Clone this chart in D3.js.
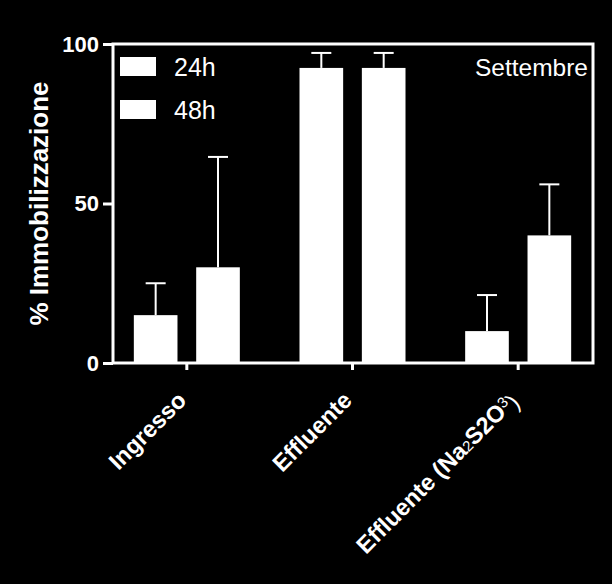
<!DOCTYPE html>
<html>
<head>
<meta charset="utf-8">
<script src="https://cdn.jsdelivr.net/npm/d3@7"></script>
<style>
  body { margin: 0; background: #000; }
  svg { display: block; background: #000; font-family: "Liberation Sans", Arial, Helvetica, sans-serif; }
  .tick text { fill: #fff; font-weight: bold; font-size: 22px; }
  .tick line { stroke: #fff; stroke-width: 3; }
  .xaxis .tick text { font-size: 23.5px; }
</style>
</head>
<body>
<div class="chart_container"></div>
<script>
var width = 612
var height = 584

// data
var groups = ["Ingresso", "Effluente", "Effluente (Na2S2O3)"]
var series = ["24h", "48h"]
var mean24 = [15, 92.5, 10]
var mean48 = [30, 92.5, 40]
var err24 = [10, 4.7, 11.3]
var err48 = [34.6, 4.7, 16]
var yTicks = [0, 50, 100]
var month = "Settembre"

var rows = []
groups.forEach(function (g, i) {
  rows.push({ group: g, serie: "24h", value: mean24[i], err: err24[i] })
  rows.push({ group: g, serie: "48h", value: mean48[i], err: err48[i] })
})

var svg = d3.select(".chart_container").append("svg")
  .attr("width", width)
  .attr("height", height)

var plotLeft = 113, plotRight = 593, plotTop = 44, plotBottom = 363

var scaleY = d3.scaleLinear()
  .domain([0, 100])
  .range([plotBottom, plotTop])

var scaleX = d3.scaleBand()
  .domain(groups)
  .range([104, 601])

var scaleSerie = d3.scaleBand()
  .domain(series)
  .range([-53, 53])
  .paddingInner(0.3)

function barX(d) {
  return scaleX(d.group) + scaleX.bandwidth() / 2 + scaleSerie(d.serie)
}

// bars
svg.selectAll("rect.bar")
  .data(rows)
  .enter()
  .append("rect")
  .attr("class", "bar")
  .attr("x", barX)
  .attr("y", function (d) { return scaleY(d.value) })
  .attr("width", scaleSerie.bandwidth())
  .attr("height", function (d) { return scaleY(0) - scaleY(d.value) })
  .style("fill", "#fff")

// error bars (upper only)
var errs = svg.selectAll("g.err")
  .data(rows)
  .enter()
  .append("g")
  .attr("class", "err")
  .attr("transform", function (d) {
    return "translate(" + (barX(d) + scaleSerie.bandwidth() / 2) + ",0)"
  })

errs.append("line")
  .attr("x1", 0).attr("x2", 0)
  .attr("y1", function (d) { return scaleY(d.value) })
  .attr("y2", function (d) { return scaleY(d.value + d.err) })
  .style("stroke", "#fff").style("stroke-width", 2)

errs.append("line")
  .attr("x1", -10).attr("x2", 10)
  .attr("y1", function (d) { return scaleY(d.value + d.err) })
  .attr("y2", function (d) { return scaleY(d.value + d.err) })
  .style("stroke", "#fff").style("stroke-width", 2)

// frame
svg.append("rect")
  .attr("x", plotLeft).attr("y", plotTop)
  .attr("width", plotRight - plotLeft).attr("height", plotBottom - plotTop)
  .style("fill", "none")
  .style("stroke", "#fff")
  .style("stroke-width", 3)

// axes
var axisLeft = d3.axisLeft(scaleY)
  .tickValues(yTicks)
  .tickSize(10)
  .tickPadding(4)

svg.append("g")
  .attr("transform", "translate(" + plotLeft + ",0)")
  .call(axisLeft)
  .call(function (g) { g.select(".domain").remove() })

var axisBottom = d3.axisBottom(scaleX)
  .tickSize(7)
  .tickPadding(0)

var xg = svg.append("g")
  .attr("class", "xaxis")
  .attr("transform", "translate(0," + plotBottom + ")")
  .call(axisBottom)
  .call(function (g) { g.select(".domain").remove() })

xg.selectAll(".tick text")
  .attr("y", 0)
  .attr("x", 0)
  .attr("dy", "0.35em")
  .attr("transform", "translate(-5,33) rotate(-45)")
  .style("text-anchor", "end")
  .each(function (d) {
    if (d.indexOf("Na2S2O3") < 0) return
    var t = d3.select(this).text("")
    t.append("tspan").text("Effluente (Na")
    t.append("tspan").text("2").style("font-size", "15px").style("font-weight", "normal")
    t.append("tspan").text("S2O")
    t.append("tspan").text("3").style("font-size", "15px").style("font-weight", "normal").attr("dy", "-0.4em")
    t.append("tspan").text(")").style("font-weight", "normal").attr("dy", "0.4em")
  })

// y title
svg.append("text")
  .attr("transform", "translate(48," + ((plotTop + plotBottom) / 2) + ") rotate(-90)")
  .style("text-anchor", "middle")
  .style("fill", "#fff")
  .style("font-weight", "bold")
  .style("font-size", "26px")
  .text("% Immobilizzazione")

// legend
var legend = svg.selectAll("g.legend")
  .data(series)
  .enter()
  .append("g")
  .attr("class", "legend")
  .attr("transform", function (d, i) { return "translate(120," + (57 + i * 43) + ")" })

legend.append("rect")
  .attr("width", 36).attr("height", 19)
  .style("fill", "#fff")

legend.append("text")
  .attr("x", 54).attr("y", 19)
  .style("fill", "#fff")
  .style("font-size", "25px")
  .text(function (d) { return d })

svg.append("text")
  .attr("x", 588).attr("y", 76)
  .style("text-anchor", "end")
  .style("fill", "#fff")
  .style("font-size", "24.5px")
  .text(month)
</script>
</body>
</html>
